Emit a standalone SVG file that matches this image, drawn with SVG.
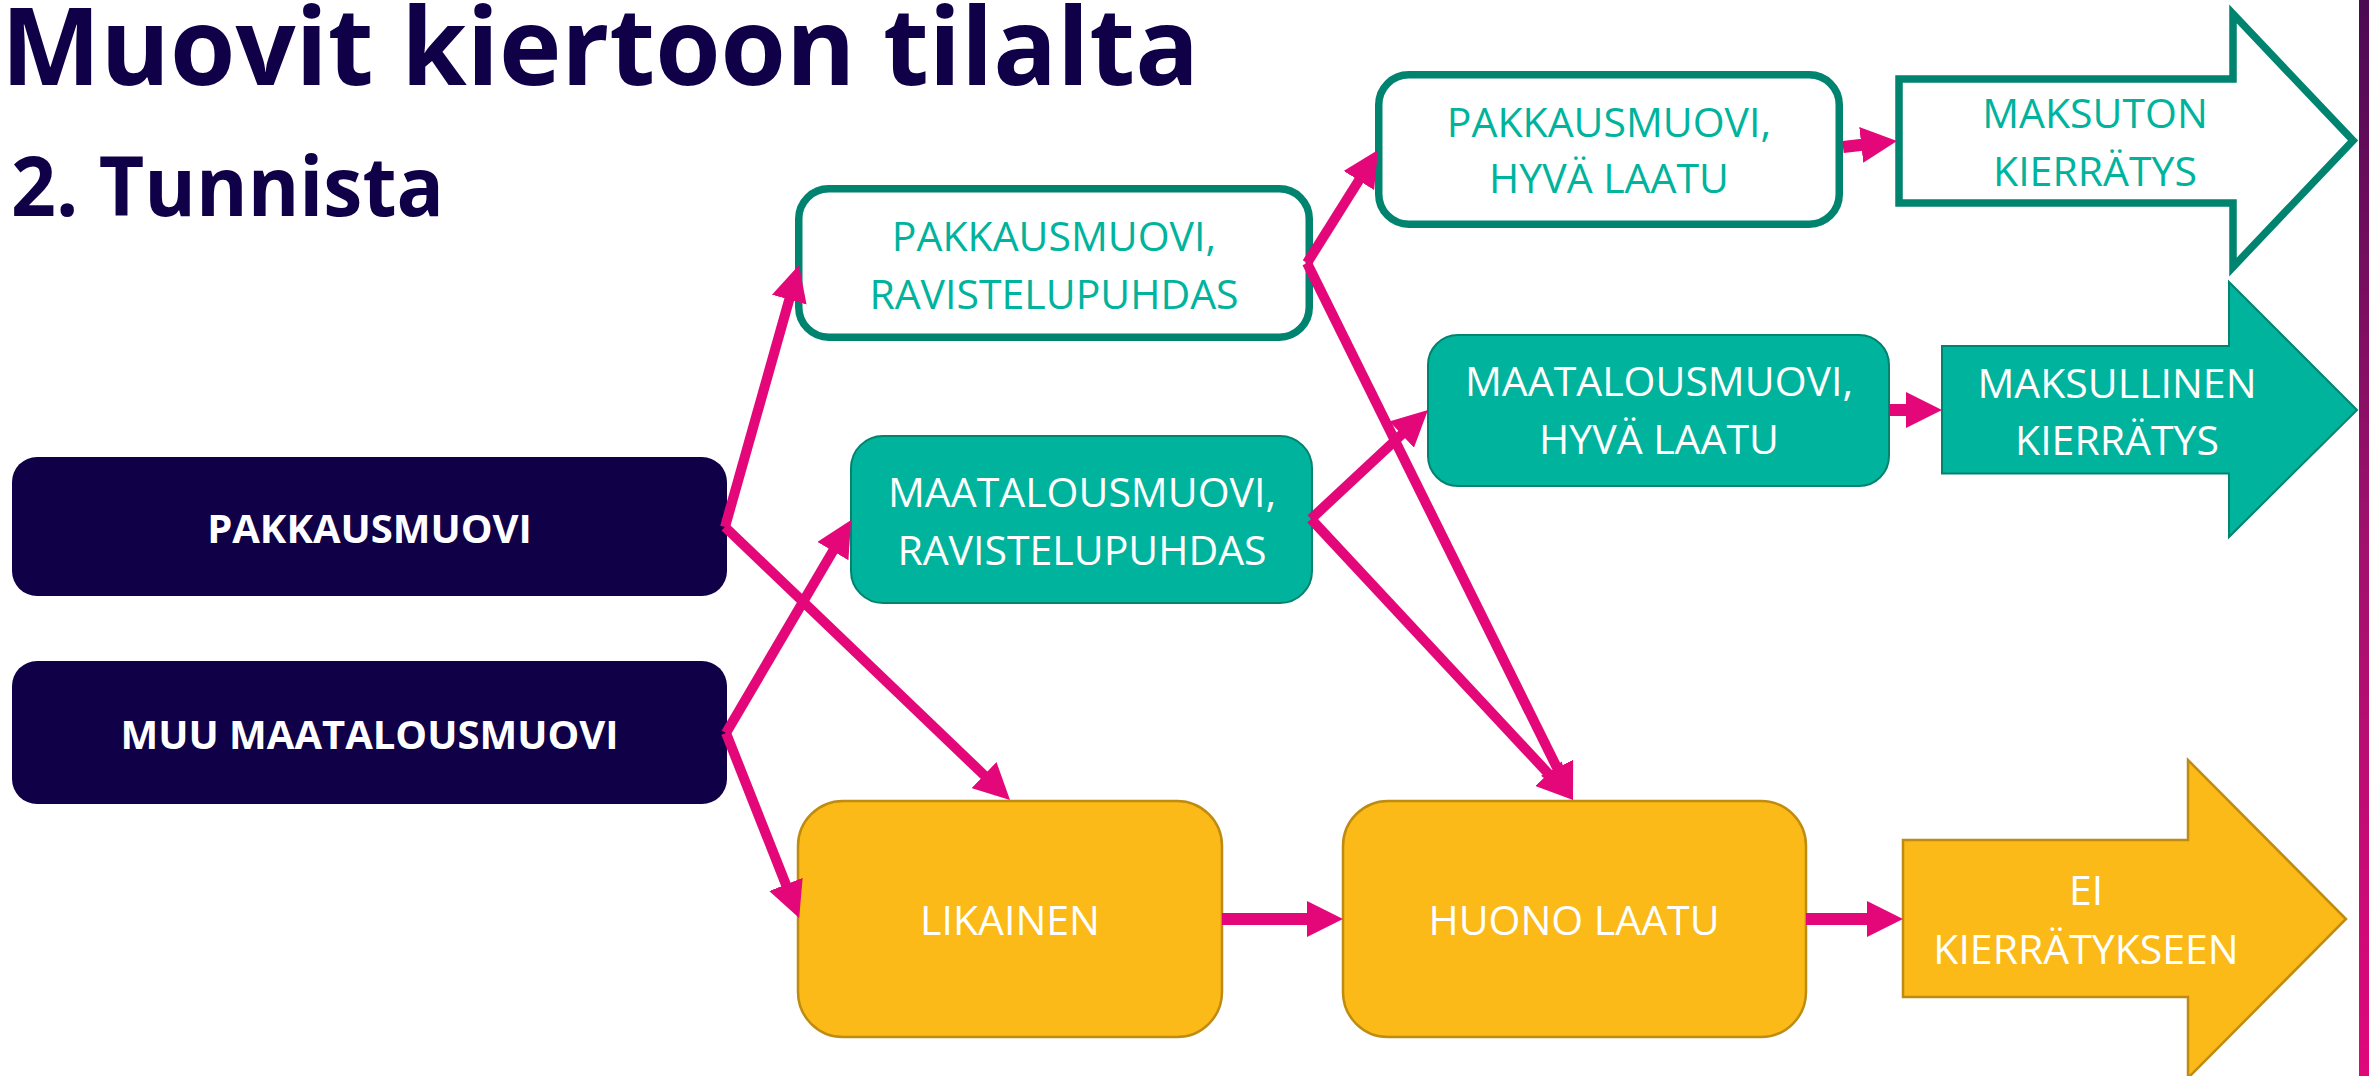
<svg xmlns="http://www.w3.org/2000/svg" width="2369" height="1076" viewBox="0 0 2369 1076">
<defs>
<style>
.title{font-family:"Open Sans","Liberation Sans",sans-serif;font-weight:700;fill:#0F0048}
.lbl{font-family:"Open Sans","Liberation Sans",sans-serif;font-size:41px;text-anchor:middle}
.bold{font-family:"Open Sans","Liberation Sans",sans-serif;font-size:40px;font-weight:700;fill:#FFFFFF;text-anchor:middle}
.w{fill:#FFFFFF}
.t{fill:#00B39D}
.navy{fill:#0F0048}
.outl{fill:#FFFFFF;stroke:#00836F;stroke-width:7.5}
.teal{fill:#00B39D;stroke:#00836F;stroke-width:2}
.orange{fill:#FBBA17;stroke:#BF8B10;stroke-width:2.5}
.con{fill:none;stroke:#E3077A;stroke-width:10;marker-end:url(#ah)}
.con2{fill:none;stroke:#E3077A;stroke-width:12;marker-end:url(#ah)}
</style>
<marker id="ah" markerUnits="userSpaceOnUse" markerWidth="36" markerHeight="36" viewBox="0 0 36 36" refX="6" refY="18" orient="auto">
<path d="M0,0 L36,18 L0,36 Z" fill="#E3077A"/>
</marker>
<linearGradient id="bar" x1="0" y1="0" x2="0" y2="1">
<stop offset="0" stop-color="#4B0A52"/>
<stop offset="0.5" stop-color="#A0116C"/>
<stop offset="1" stop-color="#E0077A"/>
</linearGradient>
</defs>
<rect x="0" y="0" width="2369" height="1076" fill="#FFFFFF"/>
<rect x="2359" y="0" width="10" height="1076" fill="url(#bar)"/>
<text class="title" x="1" y="85" font-size="108" textLength="1198" lengthAdjust="spacingAndGlyphs">Muovit kiertoon tilalta</text>
<text class="title" x="11" y="216" font-size="83" textLength="433" lengthAdjust="spacingAndGlyphs">2. Tunnista</text>

<g id="pakkausmuovi">
<rect class="navy" x="12" y="457" width="715" height="139" rx="25"/>
<text class="bold" x="369.5" y="543">PAKKAUSMUOVI</text>
</g>
<g id="muu-maatalousmuovi">
<rect class="navy" x="12" y="661" width="715" height="143" rx="25"/>
<text class="bold" x="369.5" y="749">MUU MAATALOUSMUOVI</text>
</g>
<g id="pakkausmuovi-ravistelupuhdas">
<rect class="outl" x="798.75" y="188.75" width="510.5" height="148.5" rx="30"/>
<text class="lbl t" x="1054" y="251">PAKKAUSMUOVI,</text>
<text class="lbl t" x="1054" y="309">RAVISTELUPUHDAS</text>
</g>
<g id="maatalousmuovi-ravistelupuhdas">
<rect class="teal" x="851" y="436" width="461" height="167" rx="32"/>
<text class="lbl w" x="1082" y="507">MAATALOUSMUOVI,</text>
<text class="lbl w" x="1082" y="565">RAVISTELUPUHDAS</text>
</g>
<g id="pakkausmuovi-hyva-laatu">
<rect class="outl" x="1378.75" y="74.75" width="460.5" height="149.5" rx="30"/>
<text class="lbl t" x="1609" y="137">PAKKAUSMUOVI,</text>
<text class="lbl t" x="1609" y="193">HYVÄ LAATU</text>
</g>
<g id="maatalousmuovi-hyva-laatu">
<rect class="teal" x="1428" y="335" width="461" height="151" rx="30"/>
<text class="lbl w" x="1659" y="396">MAATALOUSMUOVI,</text>
<text class="lbl w" x="1659" y="454">HYVÄ LAATU</text>
</g>
<g id="maksuton-kierratys">
<path class="outl" d="M1899,79 H2233 V14 L2353,140.5 L2233,267 V203 H1899 Z"/>
<text class="lbl t" x="2095" y="128">MAKSUTON</text>
<text class="lbl t" x="2095" y="186">KIERRÄTYS</text>
</g>
<g id="maksullinen-kierratys">
<path class="teal" d="M1942,346 H2229 V282 L2357,410 L2229,537 V473.5 H1942 Z"/>
<text class="lbl w" x="2117" y="398">MAKSULLINEN</text>
<text class="lbl w" x="2117" y="454.5">KIERRÄTYS</text>
</g>
<g id="likainen">
<rect class="orange" x="798" y="801" width="424" height="236" rx="45"/>
<text class="lbl w" x="1010" y="935">LIKAINEN</text>
</g>
<g id="huono-laatu">
<rect class="orange" x="1343" y="801" width="463" height="236" rx="45"/>
<text class="lbl w" x="1574" y="935">HUONO LAATU</text>
</g>
<g id="ei-kierratykseen">
<path class="orange" d="M1903,840 H2188 V760 L2346,919 L2188,1078 V997 H1903 Z"/>
<text class="lbl w" x="2086" y="905">EI</text>
<text class="lbl w" x="2086" y="964">KIERRÄTYKSEEN</text>
</g>

<g id="connectors">
<line class="con" x1="725" y1="527" x2="790.85" y2="293.87"/>
<line class="con" x1="725" y1="527" x2="988.34" y2="779.25"/>
<line class="con" x1="726" y1="733" x2="835.91" y2="545.93"/>
<line class="con" x1="726" y1="733" x2="788.12" y2="890.04"/>
<line class="con" x1="1307" y1="263" x2="1362.04" y2="175.4"/>
<line class="con" x1="1307" y1="263" x2="1559.68" y2="773.12"/>
<line class="con" x1="1311" y1="519" x2="1406.05" y2="430.45"/>
<line class="con" x1="1311" y1="519" x2="1552.54" y2="778.06"/>
<line class="con2" x1="1843" y1="147" x2="1867.2" y2="144.3"/>
<line class="con2" x1="1889" y1="410" x2="1912" y2="410"/>
<line class="con2" x1="1222" y1="919" x2="1313" y2="919"/>
<line class="con2" x1="1806" y1="919" x2="1873" y2="919"/>
</g>
</svg>
